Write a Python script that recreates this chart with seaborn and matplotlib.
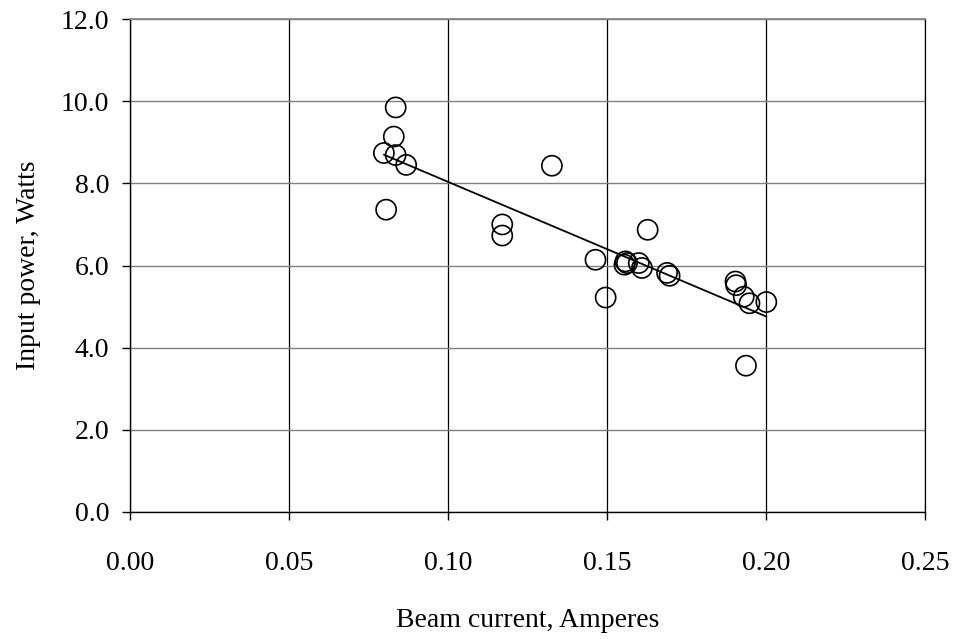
import matplotlib
matplotlib.use("Agg")
import matplotlib.pyplot as plt
import seaborn as sns
import numpy as np
import pandas as pd

# Measured beam current (A) and input power (W)
beam_current = [0.0835, 0.0829, 0.0798, 0.0835, 0.0868, 0.0805,
                0.117, 0.117, 0.1326, 0.1463, 0.1495, 0.1627,
                0.1557, 0.1562, 0.1554, 0.1599, 0.1609, 0.1688, 0.1696,
                0.1903, 0.1905, 0.1929, 0.1947, 0.2000, 0.1936]
input_power = [9.85, 9.14, 8.74, 8.69, 8.45, 7.36,
               7.00, 6.73, 8.43, 6.14, 5.22, 6.87,
               6.10, 6.06, 6.02, 6.06, 5.94, 5.82, 5.75,
               5.61, 5.52, 5.24, 5.08, 5.11, 3.56]

x_ticks = [0.00, 0.05, 0.10, 0.15, 0.20, 0.25]
y_ticks = [0.0, 2.0, 4.0, 6.0, 8.0, 10.0, 12.0]

df = pd.DataFrame({"current": beam_current, "power": input_power})

sns.set_theme(style="white")
plt.rcParams["font.family"] = ["Liberation Serif", "DejaVu Serif"]

fig = plt.figure(figsize=(9.56, 6.39), dpi=100)
ax = fig.add_axes([0.136, 0.199, 0.832, 0.771])

sns.scatterplot(data=df, x="current", y="power", ax=ax, s=210,
                facecolors="none", edgecolor="black", linewidth=1.2,
                marker="o", zorder=3)
sns.regplot(data=df, x="current", y="power", ax=ax, scatter=False,
            ci=None, color="black", line_kws={"linewidth": 1.3, "zorder": 4})

ax.set_xlim(0, 0.25)
ax.set_ylim(0, 12)
ax.set_xticks(x_ticks)
ax.set_yticks(y_ticks)
ax.set_xticklabels([f"{v:.2f}" for v in x_ticks])
ax.set_yticklabels([f"{v:.1f}" for v in y_ticks])

ax.yaxis.grid(True, color="#808080", linewidth=1.0)
ax.xaxis.grid(True, color="black", linewidth=0.9)
ax.set_axisbelow(True)

for side in ["left", "bottom"]:
    ax.spines[side].set_color("black")
    ax.spines[side].set_linewidth(1.0)
ax.spines["top"].set_color("#808080")
ax.spines["right"].set_color("black")
ax.spines["right"].set_linewidth(0.9)

ax.tick_params(axis="both", which="major", direction="out", length=6,
               width=1.0, color="black", labelsize=20, labelcolor="black")
ax.tick_params(axis="x", pad=22)
ax.tick_params(axis="y", pad=9)
ax.xaxis.set_ticks_position("bottom")
ax.yaxis.set_ticks_position("left")

ax.set_xlabel("Beam current, Amperes", fontsize=20, color="black", labelpad=23)
ax.set_ylabel("Input power, Watts", fontsize=20, color="black", labelpad=14)

fig.savefig("out.png", dpi=100, facecolor="white")
